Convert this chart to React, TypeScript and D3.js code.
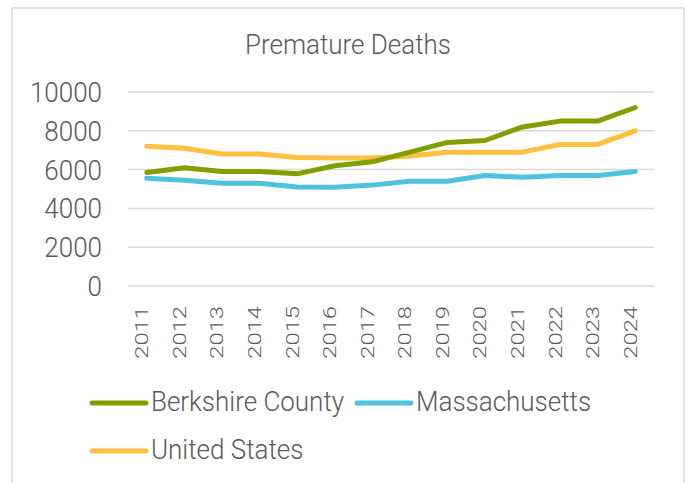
import React, { useEffect, useRef } from "react";
import * as d3 from "d3";

const years = ["2011","2012","2013","2014","2015","2016","2017","2018","2019","2020","2021","2022","2023","2024"];
const berkshire = [5850, 6100, 5900, 5900, 5780, 6200, 6400, 6900, 7400, 7500, 8200, 8500, 8500, 9200];
const massachusetts = [5550, 5450, 5300, 5300, 5100, 5090, 5200, 5400, 5400, 5700, 5600, 5700, 5700, 5900];
const unitedStates = [7200, 7100, 6800, 6800, 6620, 6600, 6600, 6700, 6900, 6900, 6900, 7300, 7300, 8000];
const yTicks = [0, 2000, 4000, 6000, 8000, 10000];
const seriesNames = ["Berkshire County", "Massachusetts", "United States"];
const seriesColors = ["#7fa000", "#4ec3e0", "#ffc03f"];

const W = 688, H = 483;
const FONT = "Roboto, 'Noto Sans', sans-serif";
const TXT = "#595959";
const VS = 1.07;

export default function App() {
  const ref = useRef<SVGSVGElement | null>(null);
  useEffect(() => {
    const svg = d3.select(ref.current);
    svg.selectAll("*").remove();

    const x = d3.scaleBand<string>().domain(years).range([128, 654]).padding(0);
    const xc = (d: string) => (x(d) as number) + x.bandwidth() / 2;
    const y = d3.scaleLinear().domain([0, 10000]).range([286, 92]);

    // frame
    svg.append("rect").attr("x", 12).attr("y", 8).attr("width", 672).attr("height", 490)
      .attr("fill", "#fff").attr("stroke", "#d9d9d9").attr("stroke-width", 1.5);

    // title
    svg.append("text").attr("transform", `translate(348,53.5) scale(1,${VS})`).attr("text-anchor", "middle")
      .attr("font-family", FONT).attr("font-weight", 300).attr("font-size", 26).attr("fill", TXT)
      .text("Premature Deaths");

    // gridlines
    svg.append("g").selectAll("line").data(yTicks).join("line")
      .attr("x1", 128).attr("x2", 654).attr("y1", d => y(d)).attr("y2", d => y(d))
      .attr("stroke", "#d9d9d9").attr("stroke-width", 1.5);

    // y labels
    svg.append("g").selectAll("text").data(yTicks).join("text")
      .attr("transform", d => `translate(102,${y(d) + 10}) scale(1,${VS})`).attr("text-anchor", "end")
      .attr("font-family", FONT).attr("font-weight", 300).attr("font-size", 26).attr("fill", TXT)
      .text(d => String(d));

    // x labels
    svg.append("g").selectAll("text").data(years).join("text")
      .attr("transform", d => `translate(${xc(d) + 1.5},306) rotate(-90) scale(1.32,1)`)
      .attr("text-anchor", "end")
      .attr("font-family", FONT).attr("font-weight", 300).attr("font-size", 18).attr("fill", TXT)
      .text(d => d);

    // lines
    const line = d3.line<number>().x((_, i) => xc(years[i])).y(d => y(d));
    const allSeries = [berkshire, massachusetts, unitedStates];
    const order = [2, 1, 0];
    order.forEach(si => {
      svg.append("path").attr("d", line(allSeries[si]) as string)
        .attr("fill", "none").attr("stroke", seriesColors[si]).attr("stroke-width", 5)
        .attr("stroke-linecap", "round").attr("stroke-linejoin", "round");
    });

    // legend
    const legendItems = [
      { x0: 92, y0: 403 },
      { x0: 357, y0: 403 },
      { x0: 92, y0: 451 },
    ];
    legendItems.forEach((p, i) => {
      svg.append("line").attr("x1", p.x0).attr("x2", p.x0 + 54).attr("y1", p.y0).attr("y2", p.y0)
        .attr("stroke", seriesColors[i]).attr("stroke-width", 5).attr("stroke-linecap", "round");
      svg.append("text").attr("transform", `translate(${p.x0 + 59},${p.y0 + 8}) scale(1,${VS})`)
        .attr("font-family", FONT).attr("font-weight", 300).attr("font-size", 26).attr("fill", TXT)
        .text(seriesNames[i]);
    });
  }, []);

  return (
    <svg ref={ref} width={W} height={H}
      style={{ position: "absolute", left: 0, top: 0, background: "#fff" }} />
  );
}
